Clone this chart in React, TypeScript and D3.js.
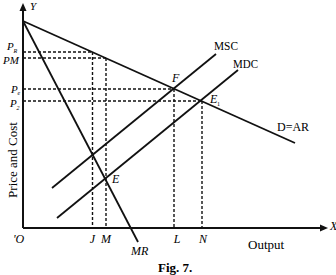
import React from "react";
import * as d3 from "d3";

// Data in chart units (x: output, y: price/cost)
const demandLine: [number, number][] = [[0, 207], [272, 85]];
const mrLine: [number, number][] = [[0, 207], [115, -14]];
const mscLine: [number, number][] = [[29, 40], [193, 174]];
const mdcLine: [number, number][] = [[34, 10], [215, 158]];

// dashed guide levels: [x of intersection, y of price]
const guideNames = ["PR", "PM", "Pe", "P2"];
const guideX = [69.5, 83, 151, 179];
const guideY = [176, 170, 139, 127];

const xTickLabels = ["J", "M", "L", "N"];
const xTickValues = [69.5, 83, 154, 180];

const W = 336;
const H = 275;

export default function App() {
  const x = d3.scaleLinear().domain([0, 300]).range([23, 323]);
  const y = d3.scaleLinear().domain([0, 224]).range([228, 4]);
  const line = d3
    .line<[number, number]>()
    .x((d) => x(d[0]))
    .y((d) => y(d[1]));

  const serif = "'Liberation Serif', 'DejaVu Serif', serif";
  const solid = { stroke: "#111", strokeWidth: 1.8, fill: "none" };
  const dash = { stroke: "#111", strokeWidth: 1.4, fill: "none", strokeDasharray: "3,2" };

  const x0 = x(0);
  const y0 = y(0);

  return (
    <svg
      width={W}
      height={H}
      style={{ position: "absolute", left: 0, top: 0, background: "#fff" }}
      fontFamily={serif}
    >
      <rect width={W} height={H} fill="#fff" />
      {/* dashed guides */}
      {guideX.map((gx, i) => (
        <g key={guideNames[i]}>
          <path d={line([[0, guideY[i]], [gx, guideY[i]]])!} {...dash} />
          <path d={line([[gx, guideY[i]], [gx, 0]])!} {...dash} />
        </g>
      ))}
      {/* curves */}
      <path d={line(demandLine)!} {...solid} />
      <path d={line(mrLine)!} {...solid} />
      <path d={line(mscLine)!} {...solid} />
      <path d={line(mdcLine)!} {...solid} />
      {/* axes */}
      <line x1={x0} y1={y0} x2={x0} y2={9} stroke="#111" strokeWidth={2} />
      <path d={`M${x0},3 L${x0 - 3.5},11 L${x0 + 3.5},11 Z`} fill="#111" />
      <line x1={x0} y1={y0} x2={322} y2={y0} stroke="#111" strokeWidth={2} />
      <path d={`M328,${y0} L320,${y0 - 3.5} L320,${y0 + 3.5} Z`} fill="#111" />

      {/* axis letters */}
      <text x={30} y={10} fontSize={11} fontStyle="italic">Y</text>
      <text x={330} y={230} fontSize={12} fontStyle="italic">X</text>
      <text x={13} y={243} fontSize={12} fontStyle="italic">'O</text>

      {/* price labels */}
      <text x={7} y={50} fontSize={11} fontStyle="italic">P</text>
      <text x={13.5} y={53} fontSize={6} fontStyle="italic">R</text>
      <text x={3} y={64} fontSize={11} fontStyle="italic">PM</text>
      <text x={11} y={93} fontSize={11} fontStyle="italic">P</text>
      <text x={17.5} y={95} fontSize={6} fontStyle="italic">e</text>
      <text x={10} y={107} fontSize={11} fontStyle="italic">P</text>
      <text x={16.5} y={110} fontSize={6} fontStyle="italic">2</text>

      <text
        transform="translate(17,160) rotate(-90)"
        fontSize={13}
        textAnchor="middle"
      >
        Price and Cost
      </text>

      {/* x tick labels */}
      {xTickLabels.map((t, i) => (
        <text
          key={t}
          x={x(xTickValues[i])}
          y={243}
          fontSize={12}
          fontStyle="italic"
          textAnchor="middle"
        >
          {t}
        </text>
      ))}

      {/* curve labels */}
      <text x={131} y={255} fontSize={12} fontStyle="italic">MR</text>
      <text x={112} y={183} fontSize={12} fontStyle="italic">E</text>
      <text x={172} y={82} fontSize={12} fontStyle="italic">F</text>
      <text x={210} y={103} fontSize={12} fontStyle="italic">E</text>
      <text x={217} y={106} fontSize={6}>1</text>
      <text x={277} y={131} fontSize={12}>D=AR</text>
      <text x={214} y={50} fontSize={12} textLength={24} lengthAdjust="spacingAndGlyphs">MSC</text>
      <text x={233} y={68} fontSize={12} textLength={25} lengthAdjust="spacingAndGlyphs">MDC</text>
      <text x={248} y={249} fontSize={13}>Output</text>
      <text x={158} y={272} fontSize={13} fontWeight="bold">Fig. 7.</text>
    </svg>
  );
}
